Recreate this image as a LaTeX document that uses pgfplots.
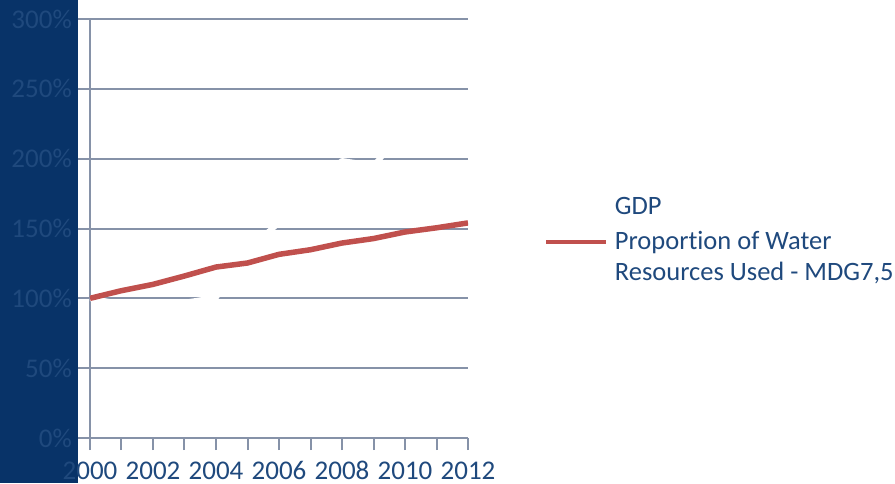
\documentclass[border=0pt]{standalone}
\usepackage{fontspec}
\setmainfont{Carlito}[Ligatures={NoCommon}]
\usepackage{pgfplots}
\pgfplotsset{compat=1.18}
\definecolor{panel}{RGB}{8,51,104}
\definecolor{txt}{RGB}{31,73,125}
\definecolor{gridc}{RGB}{134,146,168}
\definecolor{wred}{RGB}{192,80,77}
\begin{document}
\fontsize{27}{31}\selectfont
\begin{tikzpicture}[x=1pt,y=1pt]
\path[use as bounding box] (-90,-45) rectangle (805,438);
\fill[panel] (-90,-45) rectangle (-12,438);
\begin{axis}[
  scale only axis, width=378pt, height=419pt,
  xmin=2000, xmax=2012, ymin=0, ymax=300,
  axis x line*=bottom, axis y line*=left,
  axis line style={gridc, line width=2pt, -},
  tick style={gridc, line width=2pt},
  tick align=outside, major tick length=12pt, minor tick length=12pt,
  xtick={2000,2002,...,2012},
  xticklabels={2000,2002,2004,2006,2008,2010,2012},
  minor xtick={2001,2003,...,2011},
  ytick={0,50,...,300},
  yticklabels={0\%,50\%,100\%,150\%,200\%,250\%,300\%},
  ymajorgrids, major grid style={gridc, line width=2pt},
  tick label style={font=\fontsize{27}{31}\selectfont, text=txt},
  xticklabel style={text height=17pt, text depth=0pt, yshift=-3pt},
  yticklabel style={xshift=3pt},
  legend style={at={(1.201,0.579)}, anchor=north west, draw=none, fill=none,
    inner sep=0pt, font=\fontsize{26.5}{31}\selectfont, text=txt,
    row sep=5pt},
  legend cell align=left,
  legend image code/.code={\draw[#1, line width=4pt] (0pt,0.3em-9pt) -- (60pt,0.3em-9pt);
    \path (64pt,0.3em-9pt);},
]
\addplot[white, line width=5.5pt, line join=round] coordinates {
 (2000,100) (2001,96) (2002,94) (2003,97) (2004,100.5) (2005,135) (2006,154)
 (2007,180) (2008,198.5) (2009,195) (2010,220) (2011,225) (2012,235)};
\addlegendentry{GDP}
\addplot[wred, line width=5.5pt, line join=round] coordinates {
 (2000,100) (2001,105.5) (2002,110) (2003,116) (2004,122.4) (2005,125.3) (2006,131.5)
 (2007,134.8) (2008,139.6) (2009,142.8) (2010,147.5) (2011,150.5) (2012,154)};
\addlegendentry{\begin{tabular}[t]{@{}l@{}}Proportion of Water\\Resources Used - MDG7,5\end{tabular}}
\end{axis}
\end{tikzpicture}
\end{document}
